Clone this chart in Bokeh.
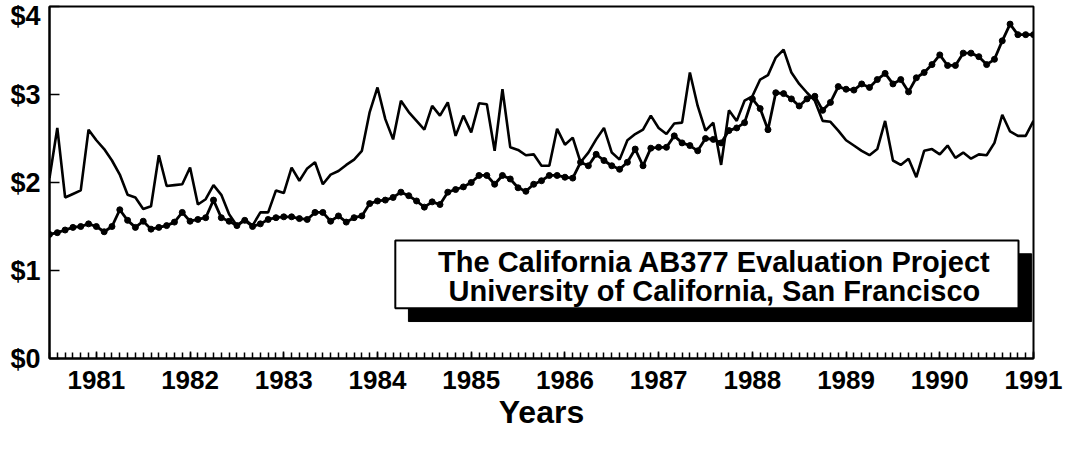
from bokeh.plotting import figure
from bokeh.models import Range1d, FixedTicker, BoxAnnotation, Label, ColumnDataSource
from bokeh.embed import file_html
from bokeh.resources import INLINE

# ---- data ----
start_year = 1980
start_month = 7          # July 1980
year_ticks = [1981, 1982, 1983, 1984, 1985, 1986, 1987, 1988, 1989, 1990, 1991]
year_labels = ["1981", "1982", "1983", "1984", "1985", "1986", "1987", "1988", "1989", "1990", "1991"]
dollar_ticks = [0, 1, 2, 3, 4]
dollar_labels = ["$0", "$1", "$2", "$3", "$4"]
x_title = "Years"

series_volatile = [
    2.05, 2.62, 1.83, 1.87, 1.91, 2.60, 2.48, 2.38, 2.25, 2.09,
    1.86, 1.83, 1.70, 1.73, 2.31, 1.96, 1.97, 1.98, 2.17, 1.75,
    1.81, 1.97, 1.86, 1.64, 1.51, 1.58, 1.51, 1.66, 1.66, 1.91,
    1.88, 2.17, 2.02, 2.16, 2.23, 1.98, 2.09, 2.13, 2.20, 2.26,
    2.36, 2.80, 3.08, 2.72, 2.49, 2.93, 2.80, 2.70, 2.60, 2.87,
    2.76, 2.91, 2.53, 2.76, 2.57, 2.90, 2.89, 2.36, 3.06, 2.40,
    2.37, 2.31, 2.32, 2.19, 2.19, 2.61, 2.43, 2.51, 2.23, 2.34,
    2.49, 2.62, 2.34, 2.26, 2.48, 2.55, 2.60, 2.76, 2.62, 2.55,
    2.67, 2.68, 3.25, 2.87, 2.59, 2.68, 2.20, 2.82, 2.70, 2.93,
    2.98, 3.17, 3.22, 3.42, 3.51, 3.25, 3.12, 3.02, 2.93, 2.70,
    2.69, 2.59, 2.48, 2.42, 2.36, 2.31, 2.38, 2.70, 2.25, 2.20,
    2.27, 2.06, 2.36, 2.38, 2.32, 2.42, 2.28, 2.34, 2.27, 2.32,
    2.31, 2.45, 2.77, 2.58, 2.53, 2.53, 2.70,
]

series_trend = [
    1.41, 1.43, 1.46, 1.49, 1.50, 1.53, 1.50, 1.44, 1.50, 1.69,
    1.57, 1.49, 1.56, 1.47, 1.49, 1.51, 1.55, 1.66, 1.56, 1.58,
    1.60, 1.80, 1.60, 1.56, 1.51, 1.57, 1.50, 1.53, 1.58, 1.60,
    1.61, 1.61, 1.59, 1.58, 1.66, 1.66, 1.56, 1.62, 1.55, 1.60,
    1.62, 1.76, 1.79, 1.80, 1.83, 1.89, 1.85, 1.79, 1.72, 1.78,
    1.75, 1.89, 1.92, 1.95, 2.00, 2.08, 2.08, 1.98, 2.08, 2.04,
    1.94, 1.90, 1.98, 2.02, 2.08, 2.08, 2.06, 2.05, 2.23, 2.19,
    2.32, 2.25, 2.19, 2.15, 2.23, 2.38, 2.19, 2.39, 2.40, 2.40,
    2.53, 2.45, 2.42, 2.36, 2.50, 2.49, 2.45, 2.59, 2.62, 2.68,
    2.95, 2.84, 2.60, 3.02, 3.01, 2.95, 2.87, 2.95, 2.98, 2.82,
    2.91, 3.09, 3.06, 3.05, 3.12, 3.08, 3.17, 3.24, 3.12, 3.17,
    3.03, 3.19, 3.25, 3.34, 3.45, 3.33, 3.33, 3.47, 3.47, 3.43,
    3.34, 3.40, 3.61, 3.80, 3.68, 3.68, 3.68,
]

legend_lines = ["The California AB377 Evaluation Project",
                "University of California, San Francisco"]

# month positions as fractional years (first of each month)
n = len(series_trend)
months = [start_year + (start_month - 1 + k) / 12.0 for k in range(n)]

FONT = "Liberation Sans"

p = figure(width=1064, height=438, output_backend="svg", toolbar_location=None,
           x_range=Range1d(months[0], months[-1]), y_range=Range1d(0, 4),
           min_border_left=49, min_border_right=31, min_border_top=6, min_border_bottom=80)

p.grid.visible = False
p.background_fill_color = "white"
p.border_fill_color = "white"
p.outline_line_color = "black"
p.outline_line_width = 2

# x axis
xa = p.xaxis[0]
xa.ticker = FixedTicker(ticks=year_ticks, minor_ticks=months)
xa.major_label_overrides = {t: l for t, l in zip(year_ticks, year_labels)}
xa.major_label_text_font = FONT
xa.major_label_text_font_style = "bold"
xa.major_label_text_font_size = "26px"
xa.major_label_text_color = "black"
xa.major_label_standoff = 12
xa.major_tick_in = 7
xa.major_tick_out = 0
xa.minor_tick_in = 6
xa.minor_tick_out = 0
xa.axis_line_width = 2
xa.major_tick_line_width = 1.5
xa.minor_tick_line_width = 1.5
xa.axis_label = x_title
xa.axis_label_text_font = FONT
xa.axis_label_text_font_style = "bold"
xa.axis_label_text_font_size = "32px"
xa.axis_label_text_color = "black"
xa.axis_label_standoff = 2

# y axis
ya = p.yaxis[0]
ya.ticker = FixedTicker(ticks=dollar_ticks, minor_ticks=[])
ya.major_label_overrides = {t: l for t, l in zip(dollar_ticks, dollar_labels)}
ya.major_label_text_font = FONT
ya.major_label_text_font_style = "bold"
ya.major_label_text_font_size = "27px"
ya.major_label_text_color = "black"
ya.major_label_standoff = 9
ya.major_tick_in = 10
ya.major_tick_out = 0
ya.major_tick_line_width = 1.5
ya.axis_line_width = 2

src = ColumnDataSource(dict(x=months, v=series_volatile, t=series_trend))

p.line("x", "v", source=src, line_color="black", line_width=2.6)
p.line("x", "t", source=src, line_color="black", line_width=2.8)
p.scatter("x", "t", source=src, size=6, color="black")

# boxed caption with drop shadow (data units)
box_left, box_right, box_top, box_bottom = 1984.19, 1990.84, 1.34, 0.57
shadow_dx, shadow_dy = 0.14, 0.15

p.add_layout(BoxAnnotation(left=box_left + shadow_dx, right=box_right + shadow_dx,
                           top=box_top - shadow_dy, bottom=box_bottom - shadow_dy,
                           fill_color="black", fill_alpha=1.0, line_color="black",
                           line_alpha=1.0, level="overlay"))
p.add_layout(BoxAnnotation(left=box_left, right=box_right, top=box_top, bottom=box_bottom,
                           fill_color="white", fill_alpha=1.0, line_color="black",
                           line_alpha=1.0, line_width=2, level="overlay"))

cx = (box_left + box_right) / 2 + 0.08
for txt, yv in zip(legend_lines, [1.10, 0.77]):
    p.add_layout(Label(x=cx, y=yv, text=txt, text_align="center", text_baseline="middle",
                       text_font=FONT, text_font_style="bold", text_font_size="29px",
                       text_color="black", level="overlay"))

open("out.html", "w").write(file_html(p, INLINE))
